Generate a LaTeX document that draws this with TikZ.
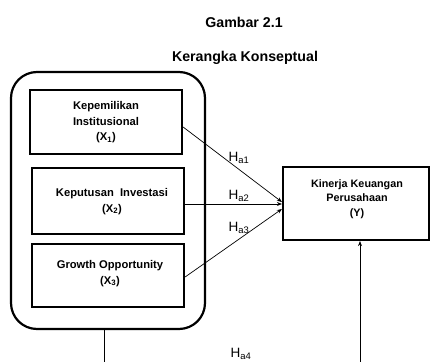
\documentclass[tikz,border=0pt]{standalone}
\usepackage{fontspec}
\setmainfont{Liberation Sans}
\usetikzlibrary{calc,arrows.meta}
\begin{document}
\begin{tikzpicture}[x=1pt,y=-1pt,
  varbox/.style={draw,line width=2.2pt,inner sep=0pt},
  txt/.style={font=\bfseries\fontsize{11.2}{15.5}\selectfont,align=center},
  lbl/.style={font=\fontsize{13.5}{13.5}\selectfont,inner sep=0pt},
  conn/.style={line width=0.7pt,-{Stealth[length=5pt,width=4pt]}},
  title/.style={font=\bfseries\fontsize{14.2}{16}\selectfont}]
\useasboundingbox (0,0) rectangle (430,361);
\clip (0,0) rectangle (430,361);
\node[title] (t1) at (244,22) {Gambar 2.1};
\node[title] (t2) at (245,58) {Kerangka Konseptual};
\draw[line width=2.2pt,rounded corners=26pt] (11,72) rectangle (205,329);
\coordinate (outerS) at (104,329);
\node[varbox,minimum width=152pt,minimum height=64pt] (b1) at (106,122) {};
\node[varbox,minimum width=152pt,minimum height=66pt] (b2) at (108,201) {};
\node[varbox,minimum width=152pt,minimum height=63pt] (b3) at (108,275.5) {};
\node[varbox,minimum width=146pt,minimum height=73pt] (y) at (356,203.5) {};
\node[txt] at (106,122.5) {Kepemilikan\\Institusional\\(X\textsubscript{1})};
\node[txt] at (112,201.5) {Keputusan\ \ Investasi\\(X\textsubscript{2})};
\node[txt] at (110,273.5) {Growth Opportunity\\(X\textsubscript{3})};
\node[txt,font=\bfseries\fontsize{10.8}{14.5}\selectfont] at (357,199) {Kinerja Keuangan\\Perusahaan\\(Y)};
\draw[conn] ($(b1.east)+(0,5)$) -- ($(y.west)+(0,-1.5)$);
\draw[conn] ($(b2.east)+(0,3)$) -- ($(y.west)+(0,0.5)$);
\draw[conn] ($(b3.east)+(0,1.5)$) -- ($(y.west)+(0,5.5)$);
\node[lbl] (h1) at (239,158) {H\textsubscript{a1}};
\node[lbl] (h2) at (239,196) {H\textsubscript{a2}};
\node[lbl] (h3) at (239,228) {H\textsubscript{a3}};
\node[lbl] (h4) at (241,354) {H\textsubscript{a4}};
\coordinate (bl) at (104,365);
\coordinate (br) at (360,365);
\draw[line width=0.7pt] (outerS) -- (bl);
\draw[conn] (br) -- ($(y.south)+(4,0)$);
\end{tikzpicture}
\end{document}
